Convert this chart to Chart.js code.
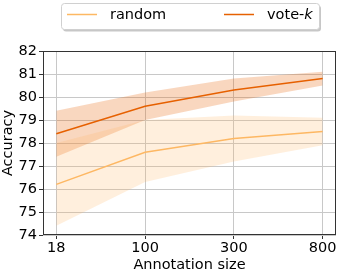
<!DOCTYPE html>
<html>
<head>
<meta charset="utf-8">
<script src="https://cdn.jsdelivr.net/npm/chart.js@4"></script>
<style>
  html, body { margin: 0; padding: 0; background: #fff; }
  #wrap { width: 343px; height: 274px; position: relative; }
</style>
</head>
<body>
<div id="wrap"><canvas id="c" width="343" height="274"></canvas></div>
<script>
// x categories (annotation size)
const sizes = ['18', '100', '300', '800'];

// random selection
const randomMean  = [76.2, 77.6, 78.2, 78.5];
const randomLow   = [74.4, 76.3, 77.2, 77.9];
const randomHigh  = [78.0, 79.0, 79.2, 79.1];

// vote-k selection
const voteMean = [78.4, 79.6, 80.3, 80.8];
const voteLow  = [77.4, 79.0, 79.8, 80.5];
const voteHigh = [79.4, 80.2, 80.8, 81.1];

const yTicks = [74, 75, 76, 77, 78, 79, 80, 81, 82];

const FONT = 'DejaVu Sans';
const FS = 14.5;
const RANDOM_C = '#fdb863';
const VOTE_C = '#e66101';

const pts = arr => arr.map((v, i) => ({ x: i, y: v }));

// legend drawn like matplotlib's box (with italic k)
const legendBox = {
  id: 'legendBox',
  afterDraw(chart) {
    const ctx = chart.ctx;
    ctx.save();
    // shadow
    ctx.fillStyle = 'rgba(0,0,0,0.22)';
    roundRect(ctx, 63, 5.5, 258, 26, 3); ctx.fill();
    ctx.fillStyle = '#fff';
    ctx.strokeStyle = '#d0d0d0';
    ctx.lineWidth = 1;
    roundRect(ctx, 61.5, 3.5, 258, 26, 3); ctx.fill(); ctx.stroke();

    ctx.lineWidth = 1.5;
    ctx.strokeStyle = RANDOM_C;
    ctx.beginPath(); ctx.moveTo(67, 14.5); ctx.lineTo(97, 14.5); ctx.stroke();
    ctx.strokeStyle = VOTE_C;
    ctx.beginPath(); ctx.moveTo(224, 14.5); ctx.lineTo(254, 14.5); ctx.stroke();

    ctx.fillStyle = '#000';
    ctx.textBaseline = 'middle';
    ctx.font = FS + 'px "' + FONT + '"';
    ctx.fillText('random', 110, 15);
    ctx.fillText('vote-', 267, 15);
    const w = ctx.measureText('vote-').width;
    ctx.font = 'oblique ' + FS + 'px "' + FONT + '"';
    ctx.fillText('k', 267 + w, 15);
    ctx.restore();
  }
};

function roundRect(ctx, x, y, w, h, r) {
  ctx.beginPath();
  ctx.moveTo(x + r, y);
  ctx.lineTo(x + w - r, y); ctx.quadraticCurveTo(x + w, y, x + w, y + r);
  ctx.lineTo(x + w, y + h - r); ctx.quadraticCurveTo(x + w, y + h, x + w - r, y + h);
  ctx.lineTo(x + r, y + h); ctx.quadraticCurveTo(x, y + h, x, y + h - r);
  ctx.lineTo(x, y + r); ctx.quadraticCurveTo(x, y, x + r, y);
  ctx.closePath();
}

// full box around the plot area
const frame = {
  id: 'frame',
  afterDatasetsDraw(chart) {
    const a = chart.chartArea, ctx = chart.ctx;
    ctx.save();
    ctx.strokeStyle = '#333';
    ctx.lineWidth = 1;
    ctx.strokeRect(Math.round(a.left) + 0.5, Math.round(a.top) + 0.5,
      Math.round(a.right - a.left) - 1, Math.round(a.bottom - a.top) - 1);
    ctx.restore();
  }
};

const band = (data, color, fill) => ({
  data: pts(data), borderWidth: 0, pointRadius: 0, backgroundColor: color,
  fill: fill, tension: 0
});

new Chart(document.getElementById('c'), {
  type: 'line',
  data: {
    datasets: [
      band(randomHigh, 'rgba(253,184,99,0.22)', '+1'),
      band(randomLow, 'rgba(253,184,99,0.22)', false),
      band(voteHigh, 'rgba(230,97,1,0.25)', '+1'),
      band(voteLow, 'rgba(230,97,1,0.25)', false),
      { label: 'random', data: pts(randomMean), borderColor: RANDOM_C, borderWidth: 1.5,
        pointRadius: 0, fill: false },
      { label: 'vote-k', data: pts(voteMean), borderColor: VOTE_C, borderWidth: 1.5,
        pointRadius: 0, fill: false }
    ]
  },
  options: {
    responsive: false,
    animation: false,
    layout: { padding: { top: 51, right: 7, left: 0, bottom: 0 } },
    plugins: { legend: { display: false }, tooltip: { enabled: false } },
    scales: {
      x: {
        type: 'linear', min: -0.15, max: 3.15,
        afterBuildTicks: s => { s.ticks = sizes.map((_, i) => ({ value: i })); },
        afterFit: s => { s.height = 39; },
        ticks: { color: '#000', font: { family: FONT, size: FS }, padding: 1,
          callback: v => sizes[v] },
        grid: { color: '#c8c8c8', tickColor: '#333', tickLength: 4, drawTicks: true },
        border: { display: false },
        title: { display: true, text: 'Annotation size', color: '#000',
          font: { family: FONT, size: FS }, padding: { top: 0, bottom: 0 } }
      },
      y: {
        min: 74, max: 82,
        afterBuildTicks: s => { s.ticks = yTicks.map(v => ({ value: v })); },
        afterFit: s => { s.width = 43; },
        ticks: { color: '#000', font: { family: FONT, size: FS }, padding: 2 },
        grid: { color: '#c8c8c8', tickColor: '#333', tickLength: 4 },
        border: { display: false },
        title: { display: true, text: 'Accuracy', color: '#000',
          font: { family: FONT, size: FS }, padding: { top: 0, bottom: 0 } }
      }
    }
  },
  plugins: [legendBox, frame]
});
</script>
</body>
</html>
